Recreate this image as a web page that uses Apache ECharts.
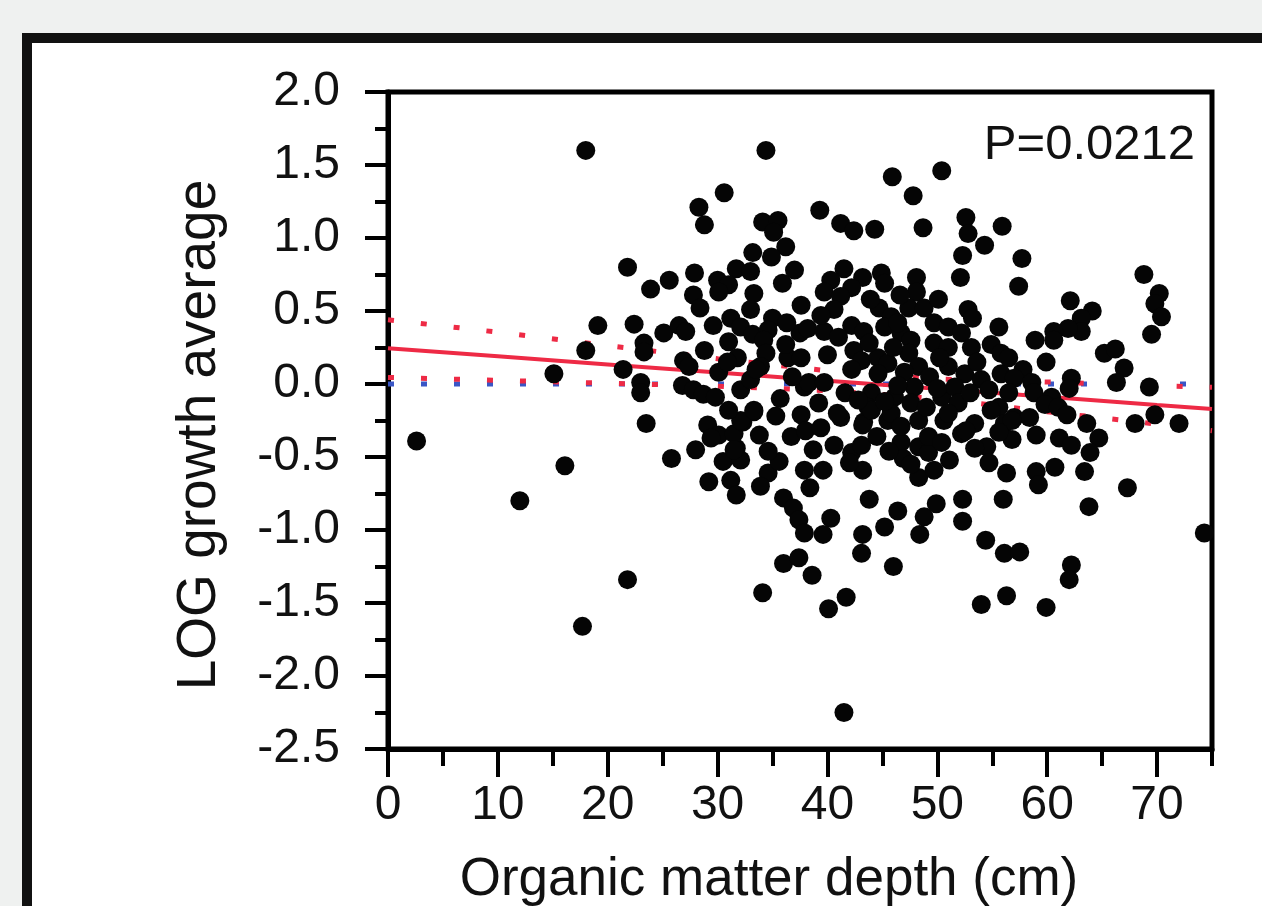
<!DOCTYPE html>
<html><head><meta charset="utf-8">
<script src="https://cdn.jsdelivr.net/npm/echarts@6/dist/echarts.min.js"></script>
<style>html,body{margin:0;padding:0;background:#eff1f0;} #c{width:1262px;height:906px;}</style>
</head><body><div id="c"></div>
<script>
// Observations: [organic matter depth (cm), LOG growth average]
const scatterPoints = [
[2.6,-0.39],[12.0,-0.80],[15.1,0.07],[16.1,-0.56],[18.0,1.60],[18.0,0.23],[17.7,-1.66],[19.1,0.40],[21.8,0.80],[21.4,0.10],
[21.8,-1.34],[22.4,0.41],[23.3,0.28],[23.3,0.22],[23.9,0.65],[25.6,0.71],[25.1,0.35],[23.0,0.01],[23.0,-0.06],[23.5,-0.27],[25.8,-0.51],
[29.1,-0.28],[28.0,-0.45],[29.2,-0.67],[30.5,-0.53],[31.2,-0.66],[31.7,-0.76],[32.1,-0.52],[31.7,-0.44],[30.1,-0.35],[31.5,-0.34],
[32.3,-0.26],[33.3,-0.19],[33.8,-0.35],[34.6,-0.61],[33.9,-0.70],[35.6,-0.53],[36.0,-0.78],[36.7,-0.36],[36.9,-0.85],[37.4,-0.93],[37.9,-1.02],
[34.1,-1.43],[36.0,-1.23],[29.4,-0.37],[31.5,-0.45],[37.9,-0.59],[38.4,-0.71],[37.4,-1.19],[38.6,-1.31],
[34.4,1.60],[30.6,1.31],[28.3,1.21],[28.8,1.09],[34.1,1.11],[35.5,1.12],[35.1,1.04],[36.2,0.94],[34.9,0.87],[33.2,0.90],
[27.9,0.76],[31.7,0.79],[33.0,0.77],[37.0,0.78],[35.9,0.69],[30.0,0.71],[31.0,0.68],[30.1,0.63],[27.8,0.61],[28.4,0.52],
[33.3,0.62],[33.0,0.51],[37.6,0.54],[31.2,0.45],[32.1,0.39],[33.2,0.34],[35.0,0.45],[34.6,0.37],[26.5,0.40],[27.1,0.36],
[31.0,0.29],[28.8,0.23],[26.9,0.16],[27.4,0.12],[31.8,0.18],[34.2,0.30],[34.4,0.21],[33.9,0.12],[36.4,0.18],[37.6,0.18],
[37.5,0.35],[30.1,0.08],[26.8,-0.01],[27.8,-0.04],[28.7,-0.07],[29.8,-0.09],[32.1,-0.04],[33.0,0.03],[33.5,0.10],[37.9,-0.02],
[32.1,-0.25],[33.3,-0.18],[37.6,-0.21],
[50.4,1.46],[45.9,1.42],[47.8,1.29],[39.3,1.19],[41.2,1.10],[42.4,1.05],[44.3,1.06],[48.7,1.07],[52.6,1.14],[52.8,1.03],
[55.9,1.08],[54.3,0.95],[52.3,0.88],[52.1,0.73],[52.8,0.51],[41.5,0.79],[40.3,0.71],[43.2,0.73],[44.9,0.76],[45.2,0.69],
[48.1,0.73],[48.1,0.63],[39.7,0.63],[42.2,0.66],[41.2,0.60],[40.6,0.51],[44.7,0.52],[45.8,0.46],[47.4,0.52],[48.8,0.52],
[38.2,0.38],[39.7,0.36],[42.2,0.40],[43.3,0.36],[45.2,0.39],[46.7,0.35],[46.4,0.42],[47.6,0.30],[49.7,0.42],[51.0,0.39],
[52.2,0.35],[49.7,0.28],[51.0,0.25],[53.1,0.25],[55.6,0.39],[54.9,0.27],[42.4,0.23],[43.1,0.16],[44.6,0.18],[45.5,0.14],
[47.4,0.21],[48.3,0.12],[47.0,0.08],[44.6,0.07],[42.2,0.10],[51.0,0.12],[52.5,0.07],[54.0,0.03],[55.8,0.07],[55.8,0.21],
[38.3,0.01],[39.7,0.01],[39.2,-0.13],[44.0,-0.06],[43.7,-0.16],[46.1,-0.09],[47.9,-0.02],[47.6,-0.13],[50.4,-0.09],[51.6,-0.02],
[51.9,-0.13],[54.7,-0.04],[55.6,-0.16],[41.2,-0.23],[43.3,-0.26],[45.5,-0.25],[48.3,-0.25],[50.6,-0.25],[53.4,-0.27],[56.1,-0.27],
[57.7,0.86],[57.4,0.67],[68.8,0.75],[70.2,0.62],[69.8,0.55],[70.4,0.46],[69.5,0.34],[62.1,0.57],[64.1,0.50],[63.1,0.45],
[63.1,0.36],[61.9,0.38],[60.6,0.36],[60.6,0.30],[58.9,0.30],[59.9,0.15],[56.5,0.18],[57.8,0.10],[57.0,0.04],[58.6,0.01],
[58.8,-0.06],[56.5,-0.06],[62.2,0.04],[62.0,-0.03],[65.2,0.21],[66.2,0.24],[67.0,0.11],[66.3,0.01],[69.3,-0.02],[60.4,-0.09],
[59.8,-0.14],[61.0,-0.16],[61.8,-0.21],[63.6,-0.27],[68.0,-0.27],[69.8,-0.21],[72.0,-0.27],[57.0,-0.23],[58.4,-0.23],
[56.8,-0.38],[59.0,-0.35],[61.1,-0.37],[62.2,-0.42],[64.7,-0.37],[63.9,-0.47],[56.3,-0.61],[59.0,-0.60],[59.2,-0.69],[60.7,-0.57],
[63.4,-0.60],[67.3,-0.71],[63.8,-0.84],[56.0,-0.79],[74.3,-1.02],[56.1,-1.16],[57.5,-1.15],[62.2,-1.24],[62.0,-1.34],[56.3,-1.45],[59.9,-1.53],
[40.6,-0.42],[42.2,-0.47],[43.1,-0.42],[43.2,-0.59],[42.0,-0.54],[43.2,-0.28],[46.7,-0.40],[46.9,-0.51],[48.3,-0.43],[49.2,-0.47],
[48.3,-0.64],[49.7,-0.59],[51.1,-0.52],[52.2,-0.34],[54.5,-0.43],[54.7,-0.54],[43.8,-0.79],[46.4,-0.87],[45.2,-0.98],[43.2,-1.03],
[43.1,-1.16],[48.4,-1.03],[48.8,-0.91],[49.9,-0.82],[52.3,-0.79],[52.3,-0.94],[54.4,-1.07],[40.1,-1.54],[41.7,-1.46],[46.0,-1.25],
[54.0,-1.51],[41.5,-2.25],[38.0,-0.32],[39.4,-0.30],[39.6,-0.59],[40.3,-0.92],[39.6,-1.03],
[40.9,-0.20],[44.0,-0.18],[45.8,-0.20],[51.0,-0.20],[52.6,-0.32],[54.9,-0.18],[46.7,-0.29],[49.2,-0.36],[56.8,-0.25],
[40.0,0.20],[41.0,0.32],[43.8,0.28],[46.0,0.25],[50.2,0.18],[49.3,0.05],[50.0,-0.03],[46.4,-0.01],[45.2,-0.12],[49.0,-0.16],
[53.0,-0.06],[53.6,0.15],[41.6,-0.06],[42.8,-0.11],[44.5,-0.36],[45.6,-0.46],[47.6,-0.55],[50.4,-0.40],[53.4,-0.44],[55.6,-0.33],
[53.2,0.45],[50.1,0.58],[46.6,0.61],[43.9,0.58],[39.4,0.47],[36.3,0.42],[35.7,-0.10],[35.3,-0.22],[36.8,0.05],[30.9,0.15],
[29.6,0.40],[31.0,-0.18],[34.6,-0.46],[38.7,-0.45],[36.2,0.27]
];

// Regression fit and 95% confidence band, read at these depths
const bandDepth = [0, 10, 20, 30, 40, 50, 60, 70, 75];
const fitLine   = [0.245, 0.19, 0.134, 0.079, 0.023, -0.033, -0.088, -0.144, -0.171];
const ciUpper   = [0.44, 0.355, 0.263, 0.173, 0.091, 0.034, 0.014, -0.013, -0.022];
const ciLower   = [0.045, 0.025, 0.005, -0.015, -0.045, -0.10, -0.19, -0.275, -0.32];
const zeroRefY  = 0;

const xMajorTicks = [0, 10, 20, 30, 40, 50, 60, 70];
const xMinorTicks = [5, 15, 25, 35, 45, 55, 65, 75];
const yMajorTicks = [-2.5, -2.0, -1.5, -1.0, -0.5, 0, 0.5, 1.0, 1.5, 2.0];
const yMinorTicks = [-2.25, -1.75, -1.25, -0.75, -0.25, 0.25, 0.75, 1.25, 1.75];

const xTitle = 'Organic matter depth (cm)';
const yTitle = 'LOG growth average';
const pText = 'P=0.0212';

const FONT = '"Liberation Sans", Arial, Helvetica, sans-serif';
const chart = echarts.init(document.getElementById('c'), null, {renderer: 'canvas'});

const pair = (xs, ys) => xs.map((x, i) => [x, ys[i]]);

chart.setOption({
  animation: false,
  backgroundColor: '#eff1f0',
  graphic: [
    { type: 'rect', z: -100, silent: true,
      shape: { x: 27, y: 38, width: 1400, height: 1000 },
      style: { fill: '#ffffff', stroke: '#111111', lineWidth: 10 } },
    { type: 'text', z: 100, x: 769, y: 880,
      style: { text: xTitle, font: '53px ' + FONT, fill: '#111', textAlign: 'center', textVerticalAlign: 'middle' } },
    { type: 'text', z: 100, x: 200, y: 435, rotation: Math.PI / 2,
      style: { text: yTitle, font: '55px ' + FONT, fill: '#111', textAlign: 'center', textVerticalAlign: 'middle' } },
    { type: 'text', z: 100, x: 1195, y: 145,
      style: { text: pText, font: '49px ' + FONT, fill: '#111', textAlign: 'right', textVerticalAlign: 'middle' } }
  ],
  grid: { left: 388, top: 92, right: 50, bottom: 157, show: true, borderColor: '#000', borderWidth: 5, backgroundColor: '#fff', containLabel: false },
  xAxis: [
    { type: 'value', min: 0, max: 75, position: 'bottom', splitLine: { show: false },
      axisLine: { show: true, onZero: false, lineStyle: { color: '#000', width: 5 } },
      axisTick: { show: true, customValues: xMajorTicks, length: 28, lineStyle: { color: '#000', width: 4 } },
      axisLabel: { show: true, customValues: xMajorTicks, margin: 33, fontSize: 48, fontFamily: FONT, color: '#111' } },
    { type: 'value', min: 0, max: 75, position: 'bottom', offset: 0, splitLine: { show: false },
      axisLine: { show: false, onZero: false },
      axisTick: { show: true, customValues: xMinorTicks, length: 17, lineStyle: { color: '#000', width: 4 } },
      axisLabel: { show: false } }
  ],
  yAxis: [
    { type: 'value', min: -2.5, max: 2.0, position: 'left', splitLine: { show: false },
      axisLine: { show: true, onZero: false, lineStyle: { color: '#000', width: 5 } },
      axisTick: { show: true, customValues: yMajorTicks, length: 23, lineStyle: { color: '#000', width: 4 } },
      axisLabel: { show: true, customValues: yMajorTicks, margin: 48, fontSize: 48, fontFamily: FONT, color: '#111',
        formatter: v => v.toFixed(1) } },
    { type: 'value', min: -2.5, max: 2.0, position: 'left', offset: 0, splitLine: { show: false },
      axisLine: { show: false, onZero: false },
      axisTick: { show: true, customValues: yMinorTicks, length: 13, lineStyle: { color: '#000', width: 4 } },
      axisLabel: { show: false } }
  ],
  series: [
    { type: 'line', name: 'zero', data: [[0, zeroRefY], [75, zeroRefY]], showSymbol: false, symbol: 'none', silent: true, z: 1,
      lineStyle: { color: '#3a56c6', width: 5, type: [6, 27], dashOffset: 0 } },
    { type: 'line', name: 'ciUpper', data: pair(bandDepth, ciUpper), showSymbol: false, symbol: 'none', silent: true, z: 2,
      lineStyle: { color: '#ee2a45', width: 5, type: [6, 27] } },
    { type: 'line', name: 'ciLower', data: pair(bandDepth, ciLower), showSymbol: false, symbol: 'none', silent: true, z: 2,
      lineStyle: { color: '#ee2a45', width: 5, type: [6, 27] } },
    { type: 'line', name: 'fit', data: pair(bandDepth, fitLine), showSymbol: false, symbol: 'none', silent: true, z: 3,
      lineStyle: { color: '#ee2a45', width: 4 } },
    { type: 'scatter', name: 'obs', data: scatterPoints, symbol: 'circle', symbolSize: 19, z: 5,
      itemStyle: { color: '#050505', opacity: 1 } }
  ]
});
</script></body></html>
